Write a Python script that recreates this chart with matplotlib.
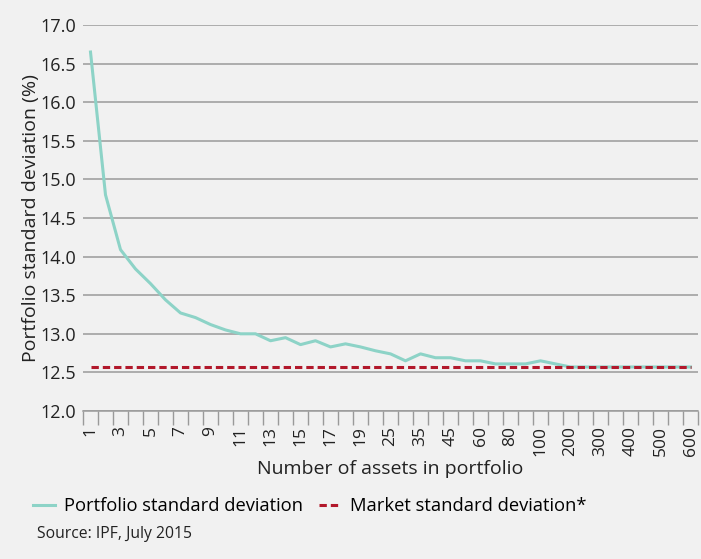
import matplotlib
matplotlib.use("Agg")
import matplotlib.pyplot as plt
from matplotlib.ticker import FixedLocator, MultipleLocator

plt.rcParams['font.family'] = ['Open Sans', 'DejaVu Sans']

# data
assets = ['1', '2', '3', '4', '5', '6', '7', '8', '9', '10',
          '11', '12', '13', '14', '15', '16', '17', '18', '19', '20',
          '25', '30', '35', '40', '45', '50', '60', '70', '80', '90',
          '100', '150', '200', '250', '300', '350', '400', '450', '500', '550', '600']
portfolio_sd = [16.65, 14.80, 14.09, 13.84, 13.65, 13.44, 13.27, 13.21, 13.12, 13.05,
                13.00, 13.00, 12.91, 12.95, 12.86, 12.91, 12.83, 12.87, 12.83, 12.78,
                12.74, 12.65, 12.74, 12.69, 12.69, 12.65, 12.65, 12.61, 12.61, 12.61,
                12.65, 12.61, 12.57, 12.57, 12.57, 12.57, 12.57, 12.57, 12.57, 12.57, 12.57]
market_sd = 12.57

bg = '#f1f1f1'
fig = plt.figure(figsize=(7.01, 5.59), dpi=100, facecolor=bg)
ax = fig.add_axes([83 / 701, 1 - 411 / 559, 615 / 701, 386 / 559])
ax.set_facecolor(bg)

x = range(len(assets))
ax.plot(x, portfolio_sd, color='#8dd3c7', lw=2.2, label='Portfolio standard deviation',
        zorder=3, clip_on=False)
ax.plot(x, [market_sd] * len(assets), color='#b2182b', lw=2.2, ls=(0, (2.4, 1.3)),
        label='Market standard deviation*', zorder=4)

ax.set_xlim(-0.5, len(assets) - 0.5)
ax.set_ylim(12, 17)
ax.yaxis.set_major_locator(MultipleLocator(0.5))
ax.yaxis.set_major_formatter(matplotlib.ticker.FormatStrFormatter('%.1f'))
ax.grid(axis='y', color='#9a9a9a', lw=1.1)
ax.set_axisbelow(True)

# labels every other category, tick marks on the boundaries
ax.set_xticks(list(x)[::2])
ax.set_xticklabels(assets[::2], rotation=90)
ax.xaxis.set_minor_locator(FixedLocator([i - 0.5 for i in range(len(assets) + 1)]))
ax.tick_params(axis='x', which='major', length=0, labelsize=12.5, pad=11, colors='#222222')
ax.tick_params(axis='x', which='minor', length=10, width=1, color='#9a9a9a')
ax.tick_params(axis='y', length=0, labelsize=13, pad=5, colors='#222222')

for s in ['top', 'right', 'left']:
    ax.spines[s].set_visible(False)
ax.spines['bottom'].set_color('#9a9a9a')
ax.spines['bottom'].set_linewidth(1.1)

ax.set_ylabel('Portfolio standard deviation (%)', fontsize=14, color='#222222', labelpad=0)
ax.set_xlabel('Number of assets in portfolio', fontsize=14, color='#222222', labelpad=3)

fig.legend(loc='center left', bbox_to_anchor=(16 / 701, 1 - 506 / 559), ncol=2,
           frameon=False, fontsize=13.2, handlelength=1.2, handletextpad=0.5,
           columnspacing=0.9)
fig.text(37 / 701, 1 - 534 / 559, 'Source: IPF, July 2015', fontsize=11.3,
         color='#222222', va='center')

fig.savefig('out.png', dpi=100, facecolor=bg)
